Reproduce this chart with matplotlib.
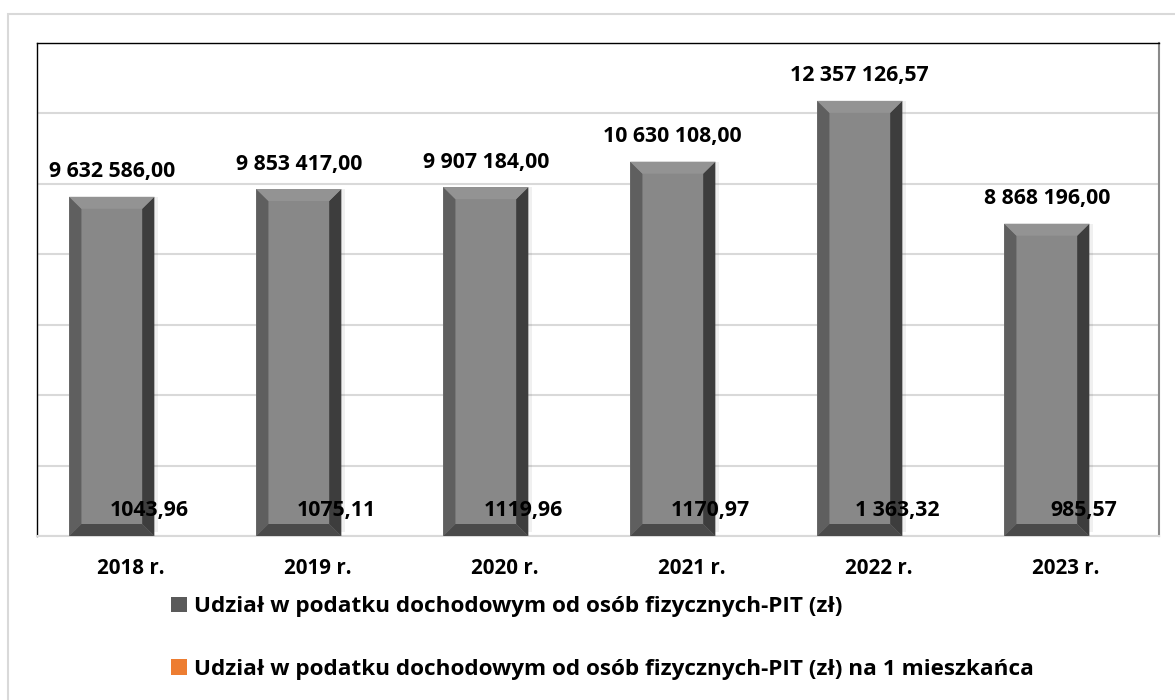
"""PIT share bar chart with bevelled bars."""

import matplotlib.pyplot as plt
from matplotlib.patches import Patch, Polygon, Rectangle

years = ["2018 r.", "2019 r.", "2020 r.", "2021 r.", "2022 r.", "2023 r."]
pit_total = [9632586.00, 9853417.00, 9907184.00, 10630108.00, 12357126.57, 8868196.00]
pit_per_capita = [1043.96, 1075.11, 1119.96, 1170.97, 1363.32, 985.57]
total_labels = ["9 632 586,00", "9 853 417,00", "9 907 184,00",
                "10 630 108,00", "12 357 126,57", "8 868 196,00"]
per_capita_labels = ["1043,96", "1075,11", "1119,96", "1170,97", "1 363,32", "985,57"]
series_names = ["Udział w podatku dochodowym od osób fizycznych-PIT (zł)",
                "Udział w podatku dochodowym od osób fizycznych-PIT (zł) na 1 mieszkańca"]

plt.rcParams["font.family"] = ["Open Sans", "DejaVu Sans"]
plt.rcParams["font.weight"] = "bold"

YMAX = 14_000_000
BAR_W = 0.455
OFFSET = 0.1
BEVEL_X = 0.065
BEVEL_PX = 12

fig = plt.figure(figsize=(11.75, 7), dpi=100)
ax = fig.add_axes([37 / 1175, 1 - 536 / 700, 1122 / 1175, 493 / 700])

# outer chart border
fig.patches.append(Rectangle((8 / 1175, -0.1), 1.2, 1 - 14 / 700 + 0.1,
                             transform=fig.transFigure, fill=False,
                             edgecolor="#d9d9d9", linewidth=1.5))

x = list(range(len(years)))
xg = [i - OFFSET for i in x]
xo = [i + OFFSET for i in x]

bars = ax.bar(xg, pit_total, width=BAR_W, color="#888888", zorder=3)
ax.bar(xo, pit_per_capita, width=BAR_W, color="#ED7D31", zorder=3)

ax.set_xlim(-0.5, len(years) - 0.5)
ax.set_ylim(0, YMAX)
ax.set_yticks(range(0, YMAX + 1, 2_000_000))
ax.yaxis.grid(True, color="#d9d9d9", linewidth=1.5, zorder=0)
ax.tick_params(axis="y", left=False, labelleft=False)
ax.tick_params(axis="x", bottom=False, pad=12)
ax.set_xticks(x)
ax.set_xticklabels(years, fontsize=14.8, fontweight="bold")

dy = BEVEL_PX * YMAX / 493
for b in bars:
    x0, x1 = b.get_x(), b.get_x() + b.get_width()
    h = b.get_height()
    pieces = [
        ([(x0, 0), (x0 + BEVEL_X, dy), (x0 + BEVEL_X, h - dy), (x0, h)], "#5f5f5f"),
        ([(x1, 0), (x1 - BEVEL_X, dy), (x1 - BEVEL_X, h - dy), (x1, h)], "#3d3d3d"),
        ([(x0, h), (x0 + BEVEL_X, h - dy), (x1 - BEVEL_X, h - dy), (x1, h)], "#939393"),
        ([(x0, 0), (x0 + BEVEL_X, dy), (x1 - BEVEL_X, dy), (x1, 0)], "#4a4a4a"),
    ]
    for pts, col in pieces:
        ax.add_patch(Polygon(pts, closed=True, facecolor=col, edgecolor="none", zorder=4))
    # soft shadow on the right side
    ax.add_patch(Rectangle((x1, dy * 0.3), 0.02, h - dy * 0.3, facecolor="#000000",
                           alpha=0.06, edgecolor="none", zorder=2))

for xi, v, lab in zip(xg, pit_total, total_labels):
    ax.annotate(lab, (xi, v), xytext=(0, 18), textcoords="offset points",
                ha="center", va="center", fontsize=15.3, fontweight="bold", zorder=5)

for xi, v, lab in zip(xo, pit_per_capita, per_capita_labels):
    ax.annotate(lab, (xi, v), xytext=(0, 18), textcoords="offset points",
                ha="center", va="center", fontsize=15.3, fontweight="bold", zorder=5)

for side in ("left", "top"):
    ax.spines[side].set_color("black")
    ax.spines[side].set_linewidth(1)
ax.spines["right"].set_color("#8a8a8a")
ax.spines["right"].set_linewidth(1.5)
ax.spines["bottom"].set_color("#d9d9d9")
ax.spines["bottom"].set_linewidth(1.5)

handles = [Patch(facecolor="#5a5a5a", edgecolor="none"),
           Patch(facecolor="#ED7D31", edgecolor="none")]
fig.legend(handles, series_names, loc="upper left",
           bbox_to_anchor=(151 / 1175, 1 - 576 / 700), frameon=False,
           prop={"size": 16.2, "weight": "bold"}, labelspacing=1.85,
           handlelength=0.7, handleheight=0.7, handletextpad=0.3)

fig.savefig("out.png", dpi=100)
